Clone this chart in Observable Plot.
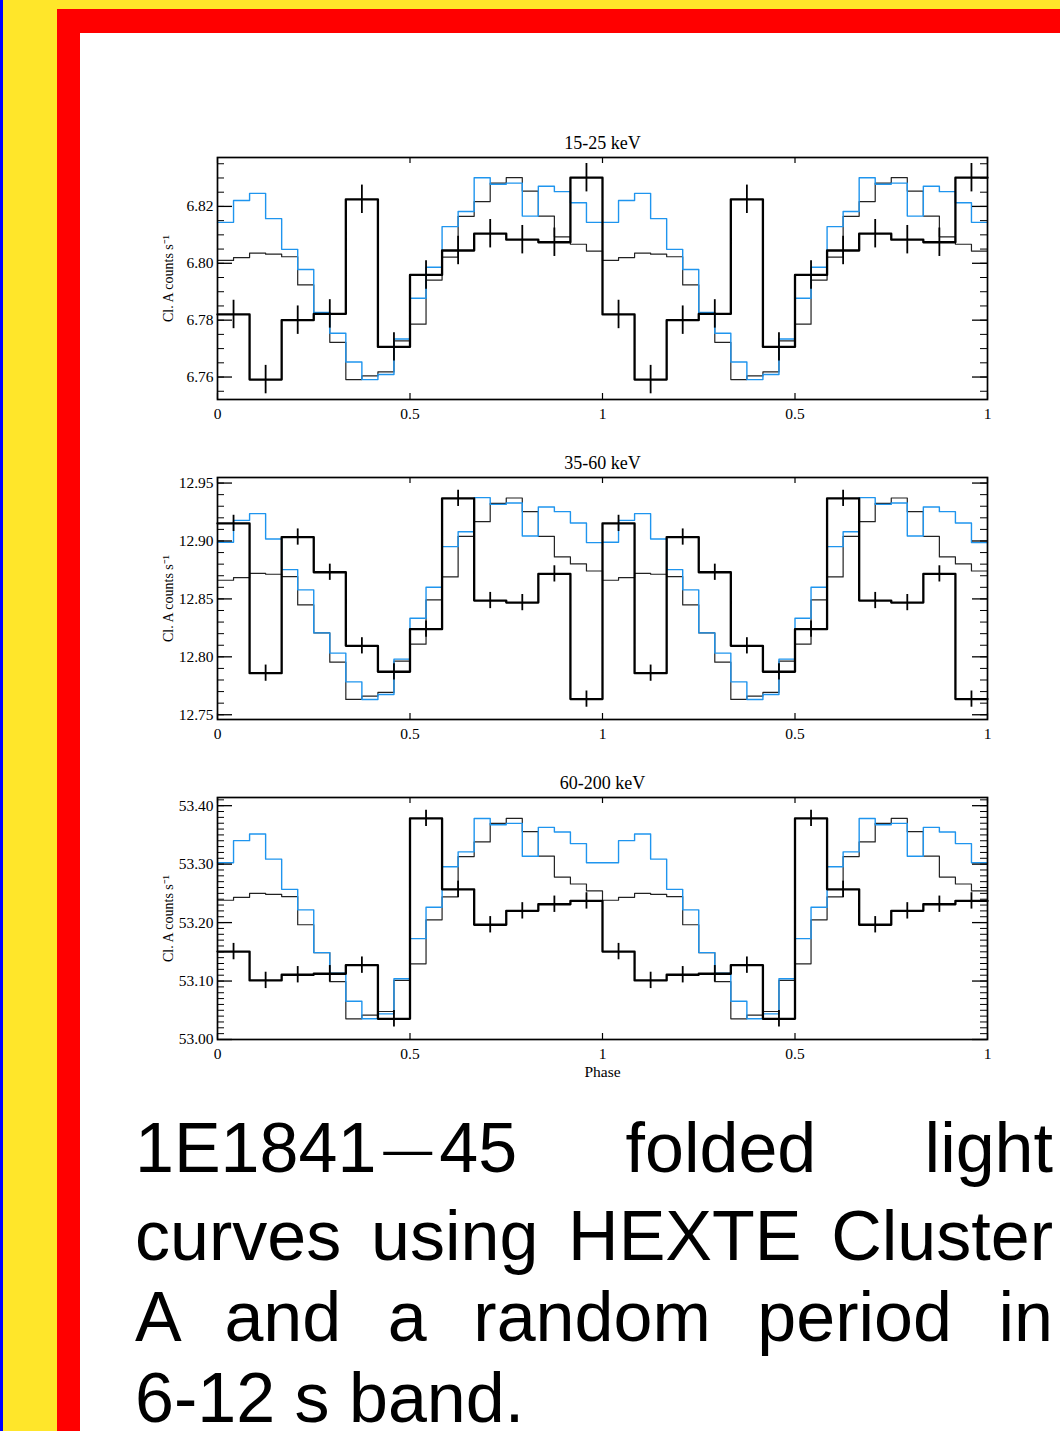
<!DOCTYPE html>
<html>
<head>
<meta charset="utf-8">
<script src="https://cdn.jsdelivr.net/npm/d3@7"></script>
<script src="https://cdn.jsdelivr.net/npm/@observablehq/plot@0.6"></script>
<style>
html,body{margin:0;padding:0;}
body{width:1060px;height:1431px;position:relative;overflow:hidden;background:#fff;}
.band{position:absolute;}
#blue{left:0;top:0;width:3px;height:1431px;background:#0000ff;}
#yellowL{left:3px;top:0;width:54px;height:1431px;background:#ffe62a;}
#yellowT{left:3px;top:0;width:1057px;height:9px;background:#ffe62a;}
#redL{left:57px;top:9px;width:23px;height:1422px;background:#ff0000;}
#redT{left:57px;top:9px;width:1003px;height:24px;background:#ff0000;}
.panel{position:absolute;left:136px;}
#caption{position:absolute;left:135px;top:1108px;width:918px;font-family:"Liberation Sans",Arial,sans-serif;font-size:70px;line-height:81px;text-align:justify;color:#000;}
#caption .dash{display:inline-block;width:63px;text-align:center;font-size:49px;position:relative;top:-6px;}
#caption .nb{white-space:nowrap;}
</style>
</head>
<body>
<div class="band" id="blue"></div>
<div class="band" id="yellowL"></div>
<div class="band" id="yellowT"></div>
<div class="band" id="redL"></div>
<div class="band" id="redT"></div>
<div class="panel" id="p1" style="top:122px"></div>
<div class="panel" id="p2" style="top:442px"></div>
<div class="panel" id="p3" style="top:762px"></div>
<div id="caption">1E1841<span class="dash">—</span>45 folded light curves using HEXTE Cluster A and a random period in <span class="nb">6-12</span> s band.</div>
<script>
// ---- data ----
const titles = ["15-25 keV", "35-60 keV", "60-200 keV"];
const yLabel = "Cl. A counts s⁻¹";
const xLabel = "Phase";
const xTicks = [0, 0.5, 1, 1.5, 2];
const xTickLabels = ["0", "0.5", "1", "0.5", "1"];

// 15-25 keV
const black1 = [6.7820, 6.7591, 6.7800, 6.7822, 6.8225, 6.7706, 6.7959, 6.8045, 6.8104, 6.8083, 6.8074, 6.8301];
const err1 = [0.005, 0.005, 0.005, 0.005, 0.005, 0.005, 0.005, 0.005, 0.005, 0.005, 0.005, 0.005];
const blue1 = [6.8144, 6.8221, 6.8246, 6.8157, 6.8049, 6.7978, 6.7827, 6.7754, 6.7653, 6.7591, 6.7609, 6.7734,
               6.7877, 6.7986, 6.8129, 6.8182, 6.8301, 6.8278, 6.8282, 6.8166, 6.8271, 6.8252, 6.8213, 6.8144];
const gray1 = [6.8010, 6.8020, 6.8036, 6.8032, 6.8023, 6.7924, 6.7827, 6.7722, 6.7591, 6.7604, 6.7618, 6.7727,
               6.7786, 6.7941, 6.8022, 6.8165, 6.8217, 6.8282, 6.8301, 6.8254, 6.8166, 6.8093, 6.8067, 6.8043];
const yTicks1 = [6.76, 6.78, 6.80, 6.82];

// 35-60 keV
const black2 = [12.9152, 12.7859, 12.9034, 12.8730, 12.8095, 12.7871, 12.8239, 12.9368, 12.8486, 12.8468, 12.8716, 12.7635];
const err2 = [0.007, 0.007, 0.007, 0.007, 0.007, 0.007, 0.007, 0.007, 0.007, 0.007, 0.007, 0.007];
const blue2 = [12.8989, 12.9178, 12.9236, 12.9017, 12.8753, 12.8578, 12.8207, 12.8032, 12.7784, 12.7632, 12.7675, 12.7980,
               12.8333, 12.8600, 12.8951, 12.9080, 12.9374, 12.9316, 12.9328, 12.9043, 12.9293, 12.9253, 12.9155, 12.8986];
const gray2 = [12.8661, 12.8684, 12.8721, 12.8713, 12.8693, 12.8448, 12.8207, 12.7954, 12.7632, 12.7661, 12.7693, 12.7963,
               12.8109, 12.8491, 12.8690, 12.9040, 12.9167, 12.9325, 12.9371, 12.9253, 12.9040, 12.8862, 12.8802, 12.8741];
const yTicks2 = [12.75, 12.80, 12.85, 12.90, 12.95];

// 60-200 keV
const black3 = [53.1504, 53.1011, 53.1108, 53.1125, 53.1272, 53.0354, 53.3782, 53.2569, 53.1963, 53.2201, 53.2314, 53.2371];
const err3 = [0.014, 0.014, 0.014, 0.014, 0.014, 0.014, 0.014, 0.014, 0.014, 0.014, 0.014, 0.014];
const blue3 = [53.3023, 53.3402, 53.3516, 53.3085, 53.2569, 53.2218, 53.1487, 53.1136, 53.0654, 53.0354, 53.0439, 53.1040,
               53.1725, 53.2263, 53.2955, 53.3210, 53.3782, 53.3674, 53.3697, 53.3136, 53.3629, 53.3550, 53.3351, 53.3023];
const gray3 = [53.2382, 53.2433, 53.2501, 53.2484, 53.2445, 53.1963, 53.1487, 53.0989, 53.0354, 53.0416, 53.0479, 53.1011,
               53.1295, 53.2048, 53.2439, 53.3130, 53.3380, 53.3697, 53.3782, 53.3555, 53.3136, 53.2779, 53.2660, 53.2541];
const yTicks3 = [53.00, 53.10, 53.20, 53.30, 53.40];

// ---- drawing ----
const xLabelMap = new Map(xTicks.map((t, i) => [t, xTickLabels[i]]));

function steps(arr) {
  const pts = [];
  for (let c = 0; c < 2; c++) arr.forEach((v, i) => pts.push({x: c + i / arr.length, y: v}));
  pts.push({x: 2, y: arr[arr.length - 1]});
  return pts;
}
function bars(arr, err) {
  const pts = [];
  for (let c = 0; c < 2; c++) arr.forEach((v, i) => pts.push({x: c + (i + 0.5) / arr.length, y: v, e: err[i]}));
  return pts;
}
function minorTicks(domain, step) {
  const lo = Math.ceil(domain[0] / step - 1e-6), hi = Math.floor(domain[1] / step + 1e-6);
  return d3.range(lo, hi + 1).map(k => +(k * step).toFixed(4));
}

function panel(o) {
  const W = 861, H = 320, mL = 81, mR = 10, mT = 35, mB = 43;
  const iw = W - mL - mR, ih = H - mT - mB;
  const minor = minorTicks(o.domain, o.minor);
  return Plot.plot({
    width: W, height: H,
    marginLeft: mL, marginRight: mR, marginTop: mT, marginBottom: mB,
    style: {fontFamily: "'Liberation Serif', 'Times New Roman', serif", fontSize: "15.5px", background: "transparent", color: "#000", overflow: "visible"},
    x: {domain: [0, 2]},
    y: {domain: o.domain},
    marks: [
      Plot.line(steps(o.gray), {x: "x", y: "y", curve: "step-after", stroke: "#222", strokeWidth: 1.2}),
      Plot.line(steps(o.blue), {x: "x", y: "y", curve: "step-after", stroke: "#1f95ee", strokeWidth: 1.4}),
      Plot.line(steps(o.black), {x: "x", y: "y", curve: "step-after", stroke: "#000", strokeWidth: 2.3}),
      Plot.ruleX(bars(o.black, o.err), {x: "x", y1: d => d.y - d.e, y2: d => d.y + d.e, stroke: "#000", strokeWidth: 1.8}),
      Plot.tickX(xTicks, {x: d => d, insetTop: ih - 6, stroke: "#000", strokeWidth: 1.2}),
      Plot.tickX(xTicks, {x: d => d, insetBottom: ih - 6, stroke: "#000", strokeWidth: 1.2}),
      Plot.tickY(o.yTicks, {y: d => d, insetRight: iw - 15, stroke: "#000", strokeWidth: 1.3}),
      Plot.tickY(o.yTicks, {y: d => d, insetLeft: iw - 15, stroke: "#000", strokeWidth: 1.3}),
      Plot.tickY(minor, {y: d => d, insetRight: iw - 7, stroke: "#000", strokeWidth: 1}),
      Plot.tickY(minor, {y: d => d, insetLeft: iw - 7, stroke: "#000", strokeWidth: 1}),
      Plot.frame({stroke: "#000", strokeWidth: 1.7}),
      Plot.axisX(xTicks, {tickSize: 0, tickPadding: 8, tickFormat: d => xLabelMap.get(d), label: null, fontSize: 15.5}),
      Plot.axisY(o.yTicks, {tickSize: 0, tickPadding: 4, tickFormat: d3.format(".2f"), label: null, fontSize: 15.5}),
      Plot.text([o.title], {frameAnchor: "top", lineAnchor: "bottom", dy: -9, fontSize: 18, fill: "#000"}),
      Plot.text([yLabel], {frameAnchor: "left", textAnchor: "middle", lineAnchor: "middle", dx: -49, rotate: -90, fontSize: 14, fill: "#000"}),
      o.phase ? Plot.text([xLabel], {frameAnchor: "bottom", lineAnchor: "bottom", dy: 37, fontSize: 15.5, fill: "#000"}) : null
    ]
  });
}

document.getElementById("p1").append(panel({title: titles[0], black: black1, err: err1, blue: blue1, gray: gray1, domain: [6.7521, 6.8372], yTicks: yTicks1, minor: 0.005}));
document.getElementById("p2").append(panel({title: titles[1], black: black2, err: err2, blue: blue2, gray: gray2, domain: [12.7459, 12.9548], yTicks: yTicks2, minor: 0.01}));
document.getElementById("p3").append(panel({title: titles[2], black: black3, err: err3, blue: blue3, gray: gray3, domain: [53.0, 53.414], yTicks: yTicks3, minor: 0.01, phase: true}));
</script>
</body>
</html>
